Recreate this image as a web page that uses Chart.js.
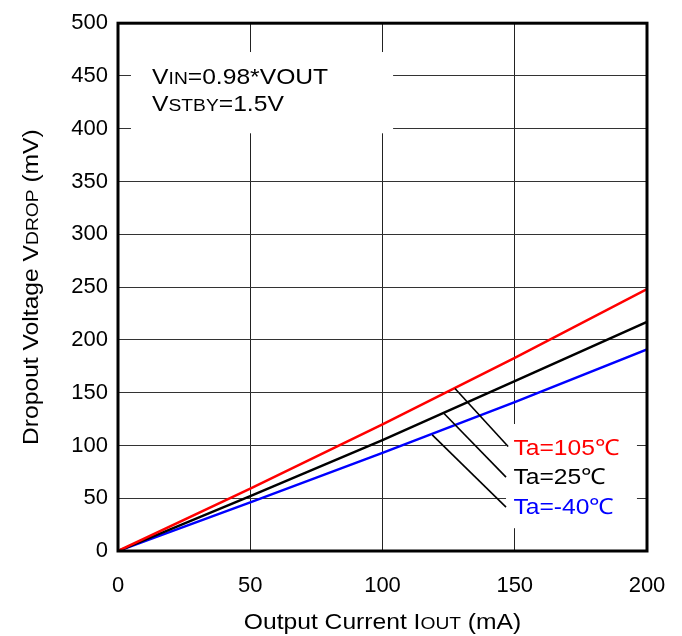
<!DOCTYPE html>
<html>
<head>
<meta charset="utf-8">
<script src="https://cdn.jsdelivr.net/npm/chart.js@4.4.0/dist/chart.umd.min.js"></script>
<style>
  html, body { margin: 0; padding: 0; background: #fff; }
  #wrap { width: 682px; height: 636px; }
</style>
</head>
<body>
<div id="wrap"><canvas id="chart"></canvas></div>
<script>
// Dropout voltage vs output current, three ambient temperatures.
const CURRENT_MA = [0, 50, 100, 150, 200];
const DROP_105C  = [0, 59, 120, 183, 248];
const DROP_25C   = [0, 52, 105, 161, 217];
const DROP_M40C  = [0, 46, 93, 141, 191];

const X_TICKS = [0, 50, 100, 150, 200];
const Y_TICKS = [0, 50, 100, 150, 200, 250, 300, 350, 400, 450, 500];

const SERIES_NAMES  = ['Ta=105℃', 'Ta=25℃', 'Ta=-40℃'];
const SERIES_COLORS = ['#ff0000', '#000000', '#0000ff'];

const FONT = '"Liberation Sans", Arial, sans-serif';
const STRETCH = 1.12;     // reference text is drawn a little wide
const SMALL = 0.78;       // small-caps subscript size

// leader lines, data units: [x on curve, y on curve, x at label, y at label]
const LEADERS = [
  [127.4, 154, 147.5, 99],
  [123.0, 131, 146.7, 70],
  [118.8, 110, 146.7, 41.6]
];

function toPoints(ys) {
  return CURRENT_MA.map((x, i) => ({x, y: ys[i]}));
}

// draws text made of [string, relSize] parts on a shared baseline
function drawRich(ctx, parts, x, y, size, color, align) {
  ctx.save();
  ctx.fillStyle = color;
  ctx.textBaseline = 'alphabetic';
  ctx.textAlign = 'left';
  let total = 0;
  const widths = parts.map(([t, rel]) => {
    ctx.font = (size * rel) + 'px ' + FONT;
    const w = ctx.measureText(t).width;
    total += w;
    return w;
  });
  ctx.translate(x, y);
  ctx.scale(STRETCH, 1);
  let cx = align === 'center' ? -total / 2 : 0;
  parts.forEach(([t, rel], i) => {
    ctx.font = (size * rel) + 'px ' + FONT;
    ctx.fillText(t, cx, 0);
    cx += widths[i];
  });
  ctx.restore();
}

const decorations = {
  id: 'decorations',
  beforeDatasetsDraw(chart) {
    const {ctx, scales: {x, y}} = chart;
    ctx.save();
    // white boxes that break the grid behind the notes
    ctx.fillStyle = '#ffffff';
    const boxes = [[4.9, 472.7, 104, 395.7], [146.7, 120.3, 196.2, 21.6]];
    boxes.forEach(([x1, y1, x2, y2]) => {
      const px1 = x.getPixelForValue(x1), py1 = y.getPixelForValue(y1);
      ctx.fillRect(px1, py1, x.getPixelForValue(x2) - px1, y.getPixelForValue(y2) - py1);
    });
    ctx.restore();

    const capMid = 22 * 0.716 / 2;
    drawRich(ctx, [['V', 1], ['IN', SMALL], ['=0.98*VOUT', 1]],
      x.getPixelForValue(12.9), y.getPixelForValue(450) + capMid, 22, '#000', 'left');
    drawRich(ctx, [['V', 1], ['STBY', SMALL], ['=1.5V', 1]],
      x.getPixelForValue(12.9), y.getPixelForValue(424) + capMid, 22, '#000', 'left');

    const labelY = [98.7, 70.5, 42.3];
    SERIES_NAMES.forEach((name, i) => {
      drawRich(ctx, [[name, 1]], x.getPixelForValue(149.5), y.getPixelForValue(labelY[i]) + capMid,
        22, SERIES_COLORS[i], 'left');
    });
  },
  afterDatasetsDraw(chart) {
    const {ctx, chartArea: a, scales: {x, y}} = chart;
    ctx.save();
    ctx.strokeStyle = '#000';
    ctx.lineWidth = 1.6;
    LEADERS.forEach(([x1, y1, x2, y2]) => {
      ctx.beginPath();
      ctx.moveTo(x.getPixelForValue(x1), y.getPixelForValue(y1));
      ctx.lineTo(x.getPixelForValue(x2), y.getPixelForValue(y2));
      ctx.stroke();
    });
    // heavy frame round the plot
    ctx.lineWidth = 3;
    ctx.strokeRect(a.left, a.top, a.right - a.left, a.bottom - a.top);
    ctx.restore();

    // axis titles (drawn here for the small-caps subscripts)
    const capMid = 22 * 0.716 / 2;
    drawRich(ctx, [['Output Current I', 1], ['OUT', SMALL], [' (mA)', 1]],
      (a.left + a.right) / 2, 621 + capMid, 22, '#000', 'center');
    ctx.save();
    ctx.translate(30, (a.top + a.bottom) / 2);
    ctx.rotate(-Math.PI / 2);
    drawRich(ctx, [['Dropout Voltage V', 1], ['DROP', SMALL], [' (mV)', 1]],
      0, capMid, 22, '#000', 'center');
    ctx.restore();
  }
};

const tickFont = {family: FONT, size: 22};

new Chart(document.getElementById('chart'), {
  type: 'scatter',
  data: {
    datasets: [DROP_105C, DROP_25C, DROP_M40C].map((ys, i) => ({
      label: SERIES_NAMES[i],
      data: toPoints(ys),
      showLine: true,
      borderColor: SERIES_COLORS[i],
      backgroundColor: SERIES_COLORS[i],
      borderWidth: 2.5,
      pointRadius: 0,
      tension: 0
    }))
  },
  options: {
    responsive: true,
    maintainAspectRatio: false,
    animation: false,
    layout: {padding: {top: 19, right: 35, left: 0, bottom: 0}},
    plugins: {legend: {display: false}, tooltip: {enabled: false}},
    scales: {
      x: {
        min: 0, max: 200,
        afterBuildTicks: axis => { axis.ticks = X_TICKS.map(v => ({value: v})); },
        afterFit: axis => { axis.height = 85; axis.paddingRight = 20; },
        grid: {color: '#222', lineWidth: 1, drawTicks: false},
        border: {display: false},
        ticks: {font: tickFont, color: '#000', padding: 22, maxRotation: 0}
      },
      y: {
        min: 0, max: 500,
        afterBuildTicks: axis => { axis.ticks = Y_TICKS.map(v => ({value: v})); },
        afterFit: axis => { axis.width = 118; },
        grid: {color: '#333', lineWidth: 1, drawTicks: false},
        border: {display: false},
        ticks: {font: tickFont, color: '#000', padding: 10}
      }
    }
  },
  plugins: [decorations]
});
</script>
</body>
</html>
